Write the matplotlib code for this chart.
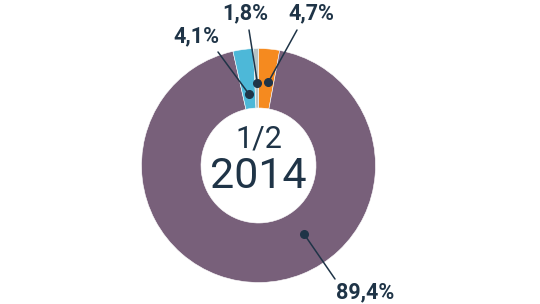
import numpy as np
import matplotlib
matplotlib.use('Agg')
import matplotlib.pyplot as plt

# DATOS
etiquetas = ['4,7%', '89,4%', '4,1%', '1,8%']
# tamaño de cada sector tal como se ve dibujado (en %)
sectores = [2.9, 93.6, 2.8, 0.7]
colores = ['#F58A1F', '#78607A', '#4DB8D8', '#B7C4C4']
titulo_1 = '1/2'
titulo_2 = '2014'

# posiciones en pixeles (x, y desde arriba)
cx, cy = 258.5, 165.5
r_ext, r_int = 117, 57.5
# punto de anotacion: angulo (horario desde arriba) y radio
punto_ang = [6.7, 146.4, 352.4, 359.2]
punto_r = [84, 82, 72, 83]
fin_linea = [(297, 30), (335, 279), (218, 52), (249, 30)]
pos_texto = [(311, 13.5), (365.5, 292.5), (196, 36), (245.5, 13.5)]

tinta = '#1F3447'
fuente = ['Roboto', 'DejaVu Sans']

fig = plt.figure(figsize=(5.4, 3.04), dpi=100)
ax = fig.add_axes([0, 0, 1, 1])

# eje y invertido: arriba = -90 grados, sentido horario visual = antihorario
ax.pie(sectores, colors=colores, startangle=-90, counterclock=True,
       center=(cx, cy), radius=r_ext, frame=True,
       wedgeprops=dict(width=r_ext - r_int, edgecolor='white', linewidth=0.4))

ax.set_xlim(0, 540)
ax.set_ylim(304, 0)
ax.axis('off')

for ang, r, fin, pos, txt in zip(punto_ang, punto_r, fin_linea, pos_texto, etiquetas):
    a = np.radians(ang)
    px = cx + r*np.sin(a)
    py = cy - r*np.cos(a)
    ax.plot([px, fin[0]], [py, fin[1]], color=tinta, linewidth=1.1,
            solid_capstyle='round')
    ax.plot(px, py, 'o', color=tinta, markersize=5.5)
    ax.text(pos[0], pos[1], txt, ha='center', va='center', color=tinta,
            fontsize=15.5, fontweight='bold', family=fuente)

ax.text(cx, 139.5, titulo_1, ha='center', va='center', color=tinta,
        fontsize=22, family=fuente)
ax.text(cx, 176.5, titulo_2, ha='center', va='center', color=tinta,
        fontsize=31, family=fuente)

fig.savefig('out.png', dpi=100)
